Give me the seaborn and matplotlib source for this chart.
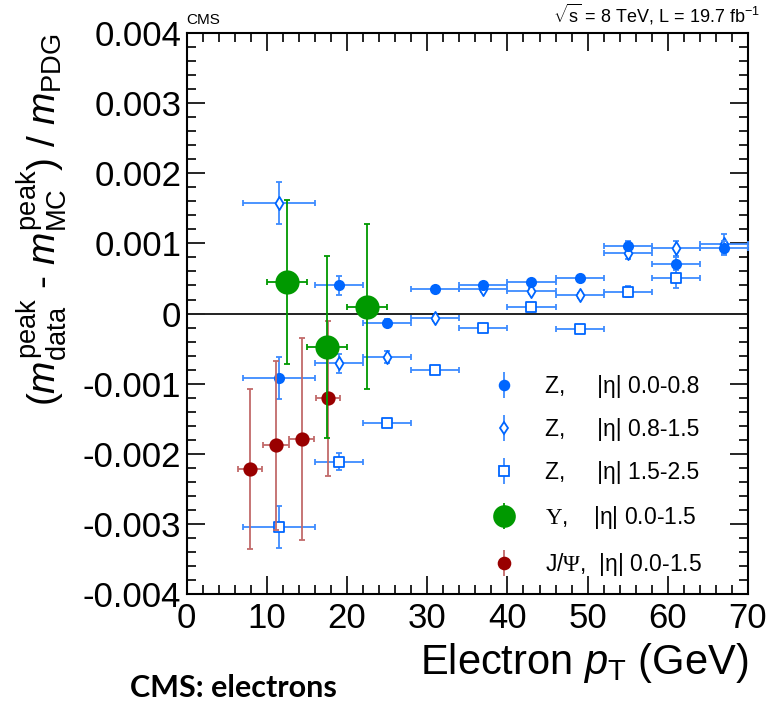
import numpy as np
import pandas as pd
import matplotlib
matplotlib.use("Agg")
import matplotlib.pyplot as plt
import seaborn as sns
from matplotlib import font_manager
from matplotlib.lines import Line2D
from matplotlib.ticker import MultipleLocator, FuncFormatter

# --- data: relative peak shift, in units of 1e-3 ---
# Z -> ee, three |eta| bins share the same pT bins
z_pt = [11.5, 19, 25, 31, 37, 43, 49, 55, 61, 67]
z_pt_err = [4.5, 3, 3, 3, 3, 3, 3, 3, 3, 3]

z_eta1_val = [-0.92, 0.40, -0.13, 0.35, 0.40, 0.45, 0.51, 0.97, 0.71, 0.93]
z_eta1_err = [0.30, 0.13, 0.05, 0.04, 0.04, 0.04, 0.04, 0.06, 0.09, 0.10]

z_eta2_val = [1.57, -0.71, -0.62, -0.07, 0.35, 0.32, 0.26, 0.87, 0.93, 0.99]
z_eta2_err = [0.30, 0.14, 0.09, 0.04, 0.04, 0.04, 0.04, 0.09, 0.11, 0.14]

z_eta3_pt = [11.5, 19, 25, 31, 37, 43, 49, 55, 61]
z_eta3_pt_err = [4.5, 3, 3, 3, 3, 3, 3, 3, 3]
z_eta3_val = [-3.05, -2.11, -1.56, -0.81, -0.21, 0.09, -0.22, 0.31, 0.51]
z_eta3_err = [0.30, 0.12, 0.05, 0.04, 0.04, 0.04, 0.04, 0.08, 0.14]

# Upsilon
ups_pt = [12.5, 17.5, 22.5]
ups_pt_err = [2.5, 2.5, 2.5]
ups_val = [0.45, -0.48, 0.10]
ups_err = [1.17, 1.30, 1.17]

# J/psi
jpsi_pt = [7.9, 11.1, 14.35, 17.6]
jpsi_pt_err = [1.5, 1.6, 1.55, 1.5]
jpsi_val = [-2.22, -1.88, -1.79, -1.21]
jpsi_err = [1.14, 1.21, 1.44, 1.10]

labels = ["Z,     |η| 0.0-0.8",
          "Z,     |η| 0.8-1.5",
          "Z,     |η| 1.5-2.5",
          r"$\Upsilon$,    |η| 0.0-1.5",
          r"J/$\Psi$,  |η| 0.0-1.5"]

BLUE = "#0066ff"
BLUE_BAR = "#3d8bff"
GREEN = "#009900"
RED = "#990000"
RED_BAR = "#c26a6a"

sns.set_theme(style="ticks")
names = {f.name for f in font_manager.fontManager.ttflist}
narrow = "Liberation Sans Narrow" if "Liberation Sans Narrow" in names else "Liberation Sans"
plt.rcParams["font.family"] = ["Liberation Sans", "DejaVu Sans"]
plt.rcParams["axes.unicode_minus"] = False
plt.rcParams["mathtext.fontset"] = "custom"
plt.rcParams["mathtext.rm"] = "Liberation Serif"
plt.rcParams["mathtext.sf"] = "Liberation Sans"
plt.rcParams["mathtext.it"] = "Liberation Sans:italic"
for key in ["text.color", "axes.labelcolor", "xtick.color", "ytick.color", "axes.edgecolor"]:
    plt.rcParams[key] = "black"

fig = plt.figure(figsize=(7.74, 7.03), dpi=100)
ax = fig.add_axes([0.2412, 0.155, 0.7252, 0.798])


def draw_series(pt, pt_err, val, err, bar_color, edge, face, marker, size, z):
    df = pd.DataFrame({"pt": pt, "shift": np.array(val) * 1e-3})
    ax.errorbar(df["pt"], df["shift"], xerr=pt_err, yerr=np.array(err) * 1e-3,
                fmt="none", ecolor=bar_color, elinewidth=1.3, capsize=2.5,
                capthick=1.3, zorder=z)
    sns.scatterplot(data=df, x="pt", y="shift", ax=ax, marker=marker, s=size,
                    color=face, edgecolor=edge, linewidth=1.3, zorder=z + 0.5,
                    legend=False)


ax.axhline(0, color="#222222", lw=1.4, zorder=1)
draw_series(z_eta3_pt, z_eta3_pt_err, z_eta3_val, z_eta3_err, BLUE_BAR, BLUE, "white", "s", 55, 3)
draw_series(z_pt, z_pt_err, z_eta2_val, z_eta2_err, BLUE_BAR, BLUE, "white", "d", 45, 4)
draw_series(z_pt, z_pt_err, z_eta1_val, z_eta1_err, BLUE_BAR, BLUE, BLUE, "o", 45, 5)
draw_series(jpsi_pt, jpsi_pt_err, jpsi_val, jpsi_err, RED_BAR, RED, RED, "o", 80, 6)
draw_series(ups_pt, ups_pt_err, ups_val, ups_err, GREEN, GREEN, GREEN, "o", 260, 7)

ax.set_xlim(0, 70)
ax.set_ylim(-0.004, 0.004)
ax.xaxis.set_major_locator(MultipleLocator(10))
ax.xaxis.set_minor_locator(MultipleLocator(2))
ax.yaxis.set_major_locator(MultipleLocator(0.001))
ax.yaxis.set_minor_locator(MultipleLocator(0.0002))
ax.yaxis.set_major_formatter(FuncFormatter(lambda v, p: "0" if abs(v) < 1e-9 else f"{v:.3f}"))
ax.tick_params(which="both", direction="in", top=True, right=True, width=1.2, color="black")
ax.tick_params(which="major", length=13)
ax.tick_params(which="minor", length=6.5)
ax.tick_params(axis="y", labelsize=25, pad=4)
ax.tick_params(axis="x", labelsize=25, pad=6)
for t in ax.get_xticklabels():
    t.set_family(narrow)
for sp in ax.spines.values():
    sp.set_linewidth(1.5)
    sp.set_color("black")

ax.set_xlabel(r"Electron $p_{\mathsf{T}}$ (GeV)", fontsize=30, loc="right", labelpad=4)
ax.set_ylabel(r"($m^{\mathsf{peak}}_{\mathsf{data}}$ - $m^{\mathsf{peak}}_{\mathsf{MC}}$) / $m_{\mathsf{PDG}}$",
              fontsize=28, loc="top", labelpad=10)

ax.text(0.0, 1.01, "CMS", transform=ax.transAxes, fontsize=11, ha="left", va="bottom", family=narrow)
ax.text(1.022, 1.01, r"$\sqrt{\mathsf{s}}$ = 8 TeV, L = 19.7 fb$^{\mathsf{-1}}$",
        transform=ax.transAxes, fontsize=13, ha="right", va="bottom", family=narrow)

# legend: marker with vertical bar only
styles = [(BLUE_BAR, BLUE, BLUE, "o", 7), (BLUE_BAR, BLUE, "white", "d", 6),
          (BLUE_BAR, BLUE, "white", "s", 7), (GREEN, GREEN, GREEN, "o", 15),
          (RED_BAR, RED, RED, "o", 8.5)]
handles = []
for bar_c, edge, face, mk, ms in styles:
    vline = Line2D([], [], marker="|", markersize=19, markeredgewidth=1.3,
                   color=bar_c, linestyle="none")
    dot = Line2D([], [], marker=mk, markersize=ms, markerfacecolor=face,
                 markeredgecolor=edge, markeredgewidth=1.3, linestyle="none")
    handles.append((vline, dot))
ax.legend(handles, labels, loc="upper left", bbox_to_anchor=(0.545, 0.391),
          frameon=False, fontsize=16.5, handlelength=1.0, handletextpad=1.29,
          labelspacing=0.88, borderpad=0, borderaxespad=0)

fig.text(130 / 774, 0.002, "CMS: electrons", fontsize=22, fontweight="bold",
         family=["Lato", "DejaVu Sans"], ha="left", va="bottom")

fig.savefig("out.png", dpi=100, facecolor="white")
